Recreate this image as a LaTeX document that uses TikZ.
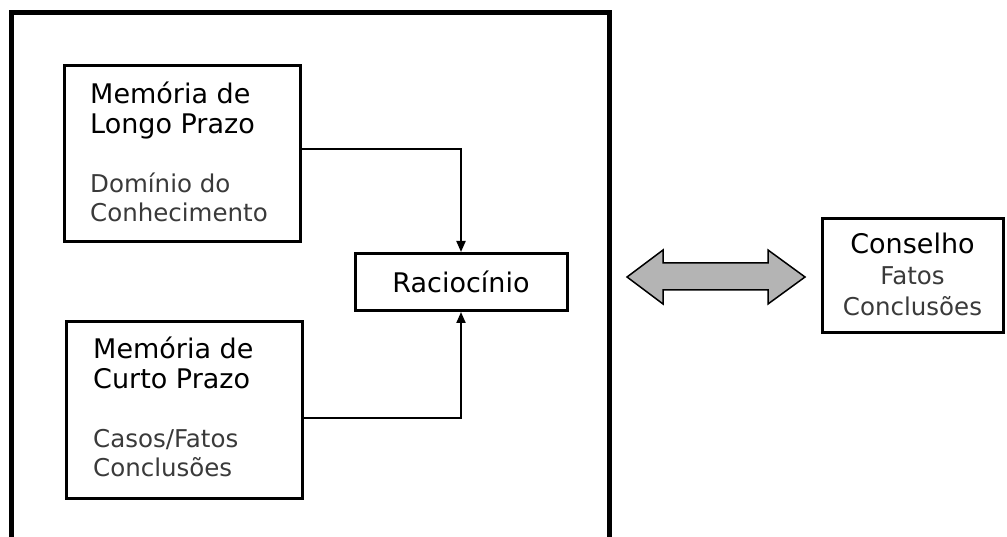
\documentclass[tikz,border=0pt]{standalone}
\usepackage{fontspec}
\setmainfont{DejaVu Sans}
\usetikzlibrary{arrows.meta}
\definecolor{arrowgray}{HTML}{B4B4B4}
\definecolor{lighttext}{HTML}{3A3A3A}
\newcommand{\lt}[1]{{\fontsize{24.5}{29.5}\selectfont\color{lighttext}#1}}
\tikzset{
  box/.style={draw=black, line width=3pt, fill=white, inner sep=0pt},
  txt/.style={anchor=north west, align=left, inner sep=0pt, font=\fontsize{27}{29.5}\selectfont},
  conn/.style={draw=black, line width=2pt, -{Triangle[length=11pt,width=9pt]}},
  frame/.style={draw=black, line width=5pt},
}
\begin{document}
\begin{tikzpicture}[x=1pt,y=-1pt]
\useasboundingbox (0,0) rectangle (1007,537);
% outer frame (bottom cut off)
\begin{scope}
\clip (0,0) rectangle (1007,537);
\draw[frame] (11,560) -- (11,13) -- (609,13) -- (609,560);
\end{scope}
% boxes
\node[box, minimum width=236pt, minimum height=176pt] (ltm) at (182,154) {};
\node[box, minimum width=236pt, minimum height=176pt] (stm) at (184,410) {};
\node[box, minimum width=212pt, minimum height=57pt, font=\fontsize{27}{29}\selectfont] (rac) at (461,282) {Racioc\'inio};
\node[box, minimum width=181pt, minimum height=114pt] (cons) at (912.5,276) {};
% texts
\node[txt] (ltmtxt) at (90,82) {Mem\'oria de\\Longo Prazo\\[29.5pt]\lt{Dom\'inio do}\\\lt{Conhecimento}};
\node[txt] (stmtxt) at (93,337) {Mem\'oria de\\Curto Prazo\\[29.5pt]\lt{Casos/Fatos}\\\lt{Conclus\~oes}};
\node[anchor=north, align=center, inner sep=0pt, font=\fontsize{27}{31}\selectfont] (constxt) at (912.5,233) {Conselho\\{\fontsize{24.5}{31}\selectfont\color{lighttext}Fatos}\\{\fontsize{24.5}{31}\selectfont\color{lighttext}Conclus\~oes}};
% connectors
\coordinate (c1) at (ltm.east |- 0,149);
\coordinate (c2) at (stm.east |- 0,418);
\draw[conn] (c1) -| (rac.north);
\draw[conn] (c2) -| (rac.south);
% double block arrow
\draw[black, line width=1.5pt, fill=arrowgray, line join=miter]
  (627,277) -- (663,250) -- (663,263) -- (768,263) -- (768,250) -- (805,277)
  -- (768,304) -- (768,290) -- (663,290) -- (663,304) -- cycle;
\end{tikzpicture}
\end{document}
